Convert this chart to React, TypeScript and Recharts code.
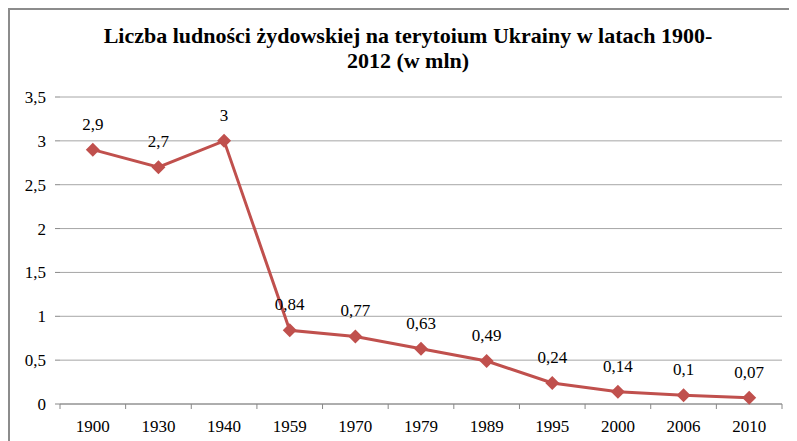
import { LineChart, Line, XAxis, YAxis, CartesianGrid, LabelList } from "recharts";

const years = ["1900", "1930", "1940", "1959", "1970", "1979", "1989", "1995", "2000", "2006", "2010"];
const population = [2.9, 2.7, 3, 0.84, 0.77, 0.63, 0.49, 0.24, 0.14, 0.1, 0.07];
const yTicks = [0, 0.5, 1, 1.5, 2, 2.5, 3, 3.5];

const chartData = years.map((year, i) => ({ year, value: population[i] }));

const W = 789;
const H = 433;
const MARGIN = { top: 89, right: 15, left: 0, bottom: 7 };
const Y_W = 52;
const BAND = (W - MARGIN.left - MARGIN.right - Y_W) / years.length;
const FONT = "'Liberation Serif', 'Times New Roman', serif";
const RED = "#C0504D";

const fmt = (v: number) => String(v).replace(".", ",");

function Diamond(props: any) {
  const { cx, cy } = props;
  if (cx == null || cy == null) return null;
  const r = 7;
  return <path d={`M${cx},${cy - r}L${cx + r},${cy}L${cx},${cy + r}L${cx - r},${cy}Z`} fill={RED} />;
}

function XTick(props: any) {
  const { x, y, payload, index } = props;
  const axisY = y - 16;
  return (
    <g>
      <line x1={x - BAND / 2} x2={x - BAND / 2} y1={axisY} y2={axisY + 5} stroke="#888" />
      {index === years.length - 1 && (
        <line x1={x + BAND / 2} x2={x + BAND / 2} y1={axisY} y2={axisY + 5} stroke="#888" />
      )}
      <text x={x} y={y} dy="0.71em" textAnchor="middle" fill="#000" fontSize={17} fontFamily={FONT}>
        {payload.value}
      </text>
    </g>
  );
}

export default function App() {
  return (
    <div style={{ position: "relative", width: W, height: H, overflow: "hidden", background: "#fff" }}>
      <div
        style={{
          position: "absolute",
          left: 0,
          top: 0,
          width: 840,
          height: 480,
          border: "2px solid #8c8c8c",
          boxSizing: "border-box",
        }}
      />
      <div
        style={{
          position: "absolute",
          left: 0,
          top: 15,
          width: 800,
          textAlign: "center",
          fontFamily: FONT,
          fontWeight: "bold",
          fontSize: 22,
          lineHeight: "25px",
          color: "#000",
        }}
      >
        Liczba ludności żydowskiej na terytoium Ukrainy w latach 1900-
        <br />
        2012 (w mln)
      </div>
      <div style={{ position: "absolute", left: 0, top: 0 }}>
        <LineChart width={W} height={H} data={chartData} margin={MARGIN}>
          <CartesianGrid vertical={false} stroke="#a6a6a6" />
          <XAxis
            dataKey="year"
            stroke="#888"
            tickLine={false}
            tickSize={5}
            tickMargin={11}
            height={30}
            interval={0}
            padding={{ left: BAND / 2, right: BAND / 2 }}
            tick={<XTick />}
          />
          <YAxis
            domain={[0, 3.5]}
            ticks={yTicks}
            width={Y_W}
            axisLine={false}
            tickLine={{ stroke: "#888" }}
            tickSize={5}
            tickMargin={9}
            tickFormatter={fmt}
            tick={{ fill: "#000", fontSize: 17, fontFamily: FONT }}
          />
          <Line
            type="linear"
            dataKey="value"
            stroke={RED}
            strokeWidth={3}
            dot={<Diamond />}
            activeDot={false}
            isAnimationActive={false}
          >
            <LabelList
              dataKey="value"
              position="top"
              offset={20}
              formatter={(v: any) => fmt(Number(v))}
              style={{ fill: "#000", fontSize: 17, fontFamily: FONT }}
            />
          </Line>
        </LineChart>
      </div>
    </div>
  );
}
